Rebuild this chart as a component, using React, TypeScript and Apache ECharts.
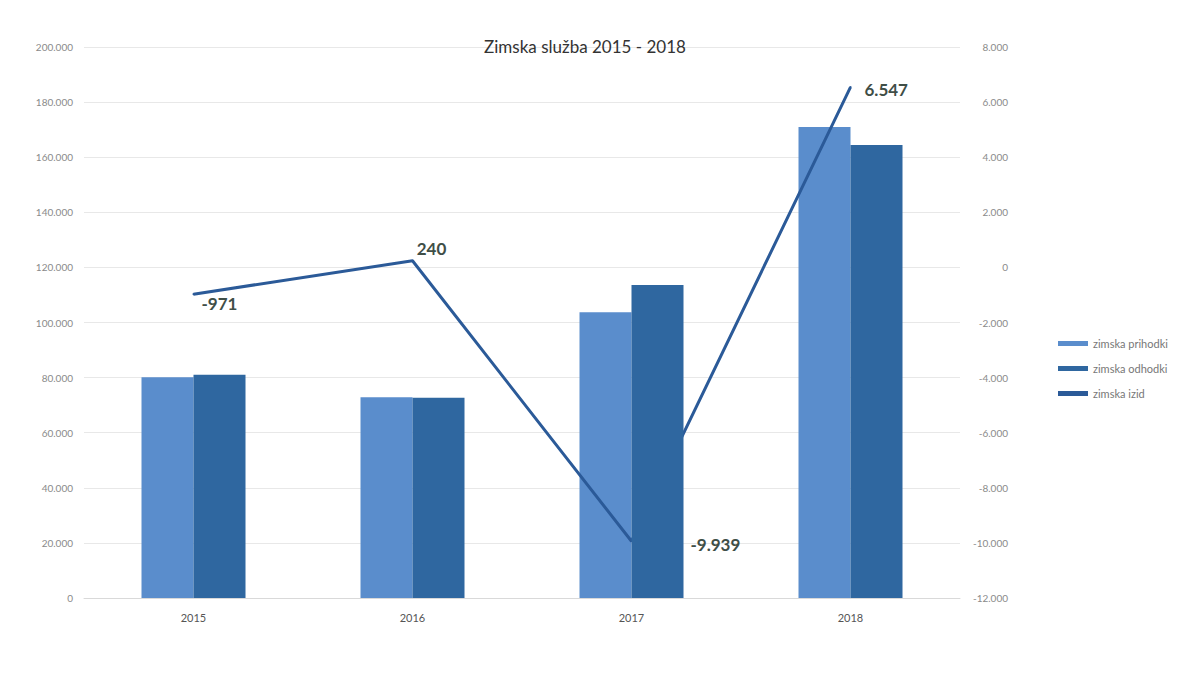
import React, { useEffect, useRef } from "react";
import * as echarts from "echarts";

const title = "Zimska služba 2015 - 2018";
const categories = ["2015", "2016", "2017", "2018"];
const prihodki = [80100, 72900, 103700, 171000];
const odhodki = [81071, 72660, 113639, 164453];
const izid = [-971, 240, -9939, 6547];
const seriesNames = ["zimska prihodki", "zimska odhodki", "zimska izid"];

const labelPlacement = [
  { position: "right", offset: [2, 9] },
  { position: "top", offset: [19, 2] },
  { position: "right", offset: [53, 3] },
  { position: "right", offset: [8, 2] },
];

const fmt = (v: number) => {
  const s = Math.round(Math.abs(v)).toString().replace(/\B(?=(\d{3})+(?!\d))/g, ".");
  return (v < 0 ? "-" : "") + s;
};

export default function App() {
  const ref = useRef<HTMLDivElement>(null);
  useEffect(() => {
    if (!ref.current) return;
    const chart = echarts.init(ref.current, undefined, { renderer: "svg" });
    const font = "Lato, 'Open Sans', sans-serif";
    chart.setOption({
      animation: false,
      backgroundColor: "#ffffff",
      textStyle: { fontFamily: font },
      title: {
        text: title,
        left: 580,
        top: 33,
        textAlign: "center",
        textStyle: { fontFamily: font, fontSize: 17, fontWeight: "normal", color: "#333" },
      },
      legend: {
        orient: "vertical",
        left: 1053,
        top: 333,
        itemWidth: 30,
        itemHeight: 5,
        itemGap: 14,
        icon: "rect",
        data: seriesNames,
        textStyle: { fontFamily: font, fontSize: 11, color: "#777" },
      },
      grid: { left: 84, right: 220, top: 47, bottom: 82 },
      xAxis: {
        type: "category",
        data: categories,
        axisLine: { lineStyle: { color: "#d9d9d9" } },
        axisTick: { show: false },
        axisLabel: { color: "#555", fontSize: 11, margin: 14, fontFamily: font },
      },
      yAxis: [
        {
          type: "value",
          min: 0,
          max: 200000,
          interval: 20000,
          axisLine: { show: false },
          axisTick: { show: false },
          splitLine: { lineStyle: { color: "#e8e8e8" } },
          axisLabel: { color: "#8a8a8a", fontSize: 10, margin: 11, formatter: (v: number) => fmt(v), fontFamily: font },
        },
        {
          type: "value",
          min: -12000,
          max: 8000,
          interval: 2000,
          axisLine: { show: false },
          axisTick: { show: false },
          splitLine: { show: false },
          axisLabel: {
            color: "#8a8a8a",
            fontSize: 10,
            margin: 48,
            align: "right",
            formatter: (v: number) => fmt(v),
            fontFamily: font,
          },
        },
      ],
      series: [
        {
          name: seriesNames[0],
          type: "bar",
          data: prihodki,
          barWidth: 52,
          barGap: "0%",
          z: 2,
          itemStyle: { color: "#5a8dcc" },
        },
        {
          name: seriesNames[1],
          type: "bar",
          data: odhodki,
          barWidth: 52,
          barGap: "0%",
          z: 4,
          itemStyle: { color: "#2f67a0" },
        },
        {
          name: seriesNames[2],
          type: "line",
          yAxisIndex: 1,
          z: 3,
          symbol: "circle",
          symbolSize: 2,
          showSymbol: true,
          lineStyle: { color: "#2b5a98", width: 3 },
          itemStyle: { color: "#2b5a98" },
          data: izid.map((v, i) => ({
            value: v,
            label: {
              show: true,
              position: labelPlacement[i].position,
              offset: labelPlacement[i].offset,
              formatter: (p: any) => fmt(p.value),
              fontFamily: font,
              fontSize: 17,
              fontWeight: "bold",
              color: "#3f4e47",
            },
          })),
        },
      ],
    });
    return () => chart.dispose();
  }, []);
  return (
    <div
      ref={ref}
      style={{ position: "fixed", left: 0, top: 0, width: 1180, height: 680 }}
    />
  );
}
